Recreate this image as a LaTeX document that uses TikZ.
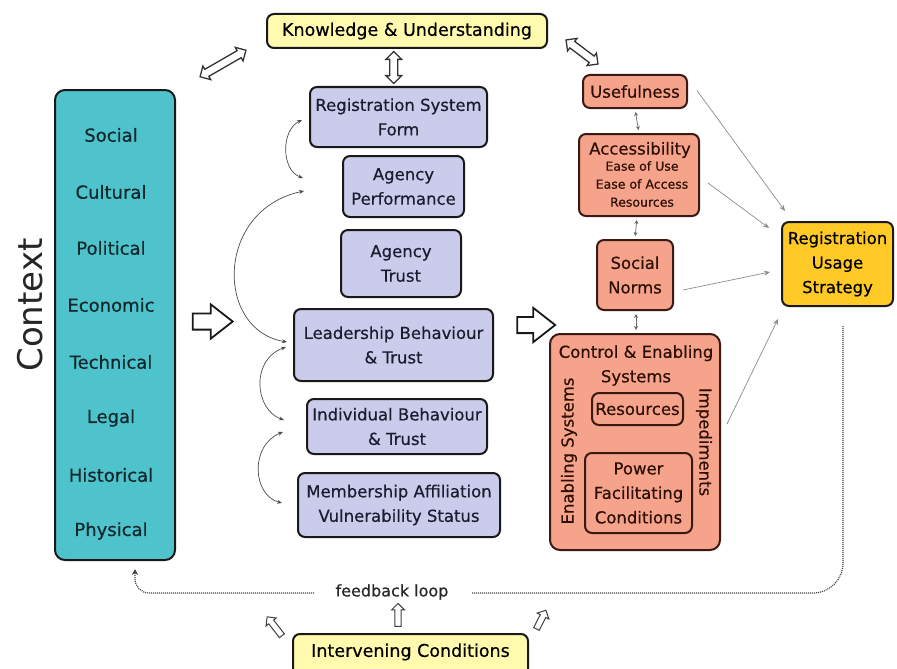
\documentclass[tikz,border=0pt]{standalone}
\usepackage{fontspec}
\setmainfont{DejaVu Sans}[FakeBold=0.5]
\usetikzlibrary{shapes.arrows,arrows.meta,calc}

\definecolor{ctxteal}{HTML}{4EC3CB}
\definecolor{lav}{HTML}{CBCBEC}
\definecolor{salmon}{HTML}{F5A38A}
\definecolor{paleyel}{HTML}{FFFAAE}
\definecolor{gold}{HTML}{FFC926}
\definecolor{salborder}{HTML}{3A1A12}
\definecolor{tealtext}{HTML}{12282C}
\definecolor{lavtext}{HTML}{1C1C30}
\definecolor{saltext}{HTML}{2E0F06}

\begin{document}
\begin{tikzpicture}[x=1pt,y=-1pt,
  box/.style={draw=black!90, line width=2pt, rounded corners=7pt, align=center,
    inner sep=0pt, font=\fontsize{16.5}{24.5}\selectfont},
  lavbox/.style={box, fill=lav, text=lavtext},
  salbox/.style={box, fill=salmon, draw=salborder, text=saltext},
  yelbox/.style={box, fill=paleyel},
  ctxword/.style={font=\fontsize{18}{20}\selectfont, text=tealtext},
  saltxt/.style={text=saltext, align=center, inner sep=0pt, font=\fontsize{16.5}{24.5}\selectfont},
  bigarrow/.style={single arrow, draw=black!90, fill=white, line width=1.8pt,
    inner sep=7.2pt, single arrow head extend=9pt, single arrow tip angle=76,
    single arrow head indent=0pt},
  smallarrow/.style={single arrow, draw=black!75, fill=white, line width=1pt,
    inner sep=2.6pt, single arrow head extend=3.4pt},
  twoway/.style={double arrow, draw=black!80, fill=white, line width=1.3pt,
    inner sep=3.4pt, double arrow head extend=3.8pt},
  curv/.style={draw=black!70, line width=0.7pt, {Stealth[length=5pt,width=4pt]}-{Stealth[length=5pt,width=4pt]}},
  link/.style={draw=black!45, line width=0.7pt, -{Stealth[length=6pt,width=5pt]}},
  minilink/.style={draw=black!60, line width=0.7pt, {Stealth[length=4pt,width=4pt]}-{Stealth[length=4pt,width=4pt]}, shorten >=3pt, shorten <=3pt},
  fbline/.style={draw=black!75, line width=1.2pt, dash pattern=on 1pt off 1pt}
]
\clip (0,0) rectangle (897,669);
\fill[white] (0,0) rectangle (897,669);

% ---------- context column ----------
\node[box, fill=ctxteal, minimum width=120, minimum height=470, rounded corners=10pt] (ctx) at (115,325) {};
\node[ctxword] (w1) at (111,135) {Social};
\node[ctxword] (w2) at (111,192) {Cultural};
\node[ctxword] (w3) at (111,248) {Political};
\node[ctxword] (w4) at (111,305) {Economic};
\node[ctxword] (w5) at (111,362) {Technical};
\node[ctxword] (w6) at (111,418) {Legal};
\node[ctxword] (w7) at (111,475) {Historical};
\node[ctxword] (w8) at (111,531) {Physical};
\node[rotate=90, font=\fontsize{34}{40}\selectfont\addfontfeatures{FakeBold=0}, text=black!85] (ctxlabel) at (30,305) {Context};

% ---------- top and bottom banners ----------
\node[yelbox, minimum width=280, minimum height=34, font=\fontsize{17.5}{20}\selectfont] (ku) at (407,31) {Knowledge \& Understanding};
\node[yelbox, minimum width=235, minimum height=46, text depth=0pt] (ic) at (410.5,657) {};
\node[font=\fontsize{17.5}{20}\selectfont] (ictext) at (410.5,652) {Intervening Conditions};

% ---------- organisational factors ----------
\node[lavbox, minimum width=177, minimum height=60] (rsf) at (398.5,117) {Registration System\\Form};
\node[lavbox, minimum width=121, minimum height=61] (ap) at (403.5,186.5) {Agency\\Performance};
\node[lavbox, minimum width=120, minimum height=67] (at) at (401,263.5) {Agency\\Trust};
\node[lavbox, minimum width=199, minimum height=72] (lbt) at (393.5,345) {Leadership Behaviour\\\& Trust};
\node[lavbox, minimum width=180, minimum height=55] (ibt) at (397,426.5) {Individual Behaviour\\\& Trust};
\node[lavbox, minimum width=202, minimum height=64] (mav) at (399,505) {Membership Affiliation\\Vulnerability Status};

% ---------- perception factors ----------
\node[salbox, minimum width=104, minimum height=33] (use) at (635,91.5) {Usefulness};
\node[salbox, minimum width=120, minimum height=82] (acc) at (639,175) {};
\node[saltxt] (acctitle) at (640,150) {Accessibility};
\node[saltxt, font=\fontsize{12.5}{18}\selectfont] (accsub) at (642,184) {Ease of Use\\Ease of Access\\Resources};
\node[salbox, minimum width=76, minimum height=70] (sn) at (635,275) {Social\\Norms};
\node[salbox, minimum width=170, minimum height=216, rounded corners=10pt] (ces) at (635,442) {};
\node[saltxt] (cestitle) at (636,365.5) {Control \& Enabling\\Systems};
\node[salbox, minimum width=91, minimum height=32] (res) at (637.5,409) {Resources};
\node[salbox, minimum width=107, minimum height=80] (pfc) at (638.5,493) {Power\\Facilitating\\Conditions};
\node[saltxt, rotate=90] (ens) at (569,451) {Enabling Systems};
\node[saltxt, rotate=-90] (imp) at (704,442) {Impediments};

% ---------- outcome ----------
\node[box, fill=gold, minimum width=111, minimum height=84] (rus) at (837.5,264) {Registration\\Usage\\Strategy};

% ---------- block arrows ----------
\node[bigarrow, minimum height=40] (ar1) at (207.5,321.5) {};
\node[bigarrow, minimum height=38] (ar2) at (531,325) {};
\node[twoway, minimum height=53, rotate=30] (dk1) at (223,63.5) {};
\node[twoway, minimum height=32, rotate=90] (dk2) at ($(ku.south)!0.5!(rsf.north)+(-9,0)$) {};
\node[twoway, minimum height=40, rotate=-37] (dk3) at (582,52) {};
\node[smallarrow, minimum height=23, rotate=90] (up1) at (398,616.5) {};
\node[smallarrow, minimum height=24, rotate=128] (up2) at (275.5,627.5) {};
\node[smallarrow, minimum height=21, rotate=63] (up3) at (540.5,621) {};

% ---------- links among organisational factors ----------
\draw[curv] ($(rsf.west)+(-7,3)$) .. controls (281,130) and (281,170) .. ($(ap.west)+(-39,-8.5)$);
\draw[curv] ($(ap.west)+(-38,4.5)$) .. controls (215,210) and (215,330) .. ($(lbt.west)+(-6,-3)$);
\draw[curv] ($(lbt.west)+(-7,2)$) .. controls (250,360) and (255,410) .. ($(ibt.west)+(-22,-6.5)$);
\draw[curv] ($(ibt.west)+(-23,5.5)$) .. controls (250,445) and (252,495) .. ($(mav.west)+(-15,-2)$);

% ---------- links among perception factors ----------
\draw[minilink] (use.south) -- (acc.south |- acc.north);
\draw[minilink] ($(acc.south)+(-2,0)$) -- (sn.north);
\draw[minilink] ($(sn.south)+(1,0)$) -- ($(ces.north)+(1,0)$);

% ---------- links to the outcome ----------
\draw[link] ($(use.east)+(9,-1)$) -- ($(rus.north west)+(4,-10)$);
\draw[link] ($(acc.east)+(8,8)$) -- ($(rus.north west)+(-12,7)$);
\draw[link] ($(sn.east)+(9,15)$) -- ($(rus.west)+(-11,8)$);
\draw[link] ($(ces.east)+(6,-18)$) -- ($(rus.south west)+(-3,12)$);

% ---------- feedback loop ----------
\node[font=\fontsize{16}{18}\selectfont, text=black!85] (fb) at (392,592) {feedback loop};
\draw[fbline, rounded corners=30pt] ($(rus.south)+(5.5,19)$) |- ($(fb.east)+(20,1)$);
\draw[fbline, rounded corners=14pt, -{Stealth[length=6pt,width=6pt,open]}] ($(fb.west)+(-18,1)$) -| ($(ctx.south)+(20,8)$);
\end{tikzpicture}
\end{document}
